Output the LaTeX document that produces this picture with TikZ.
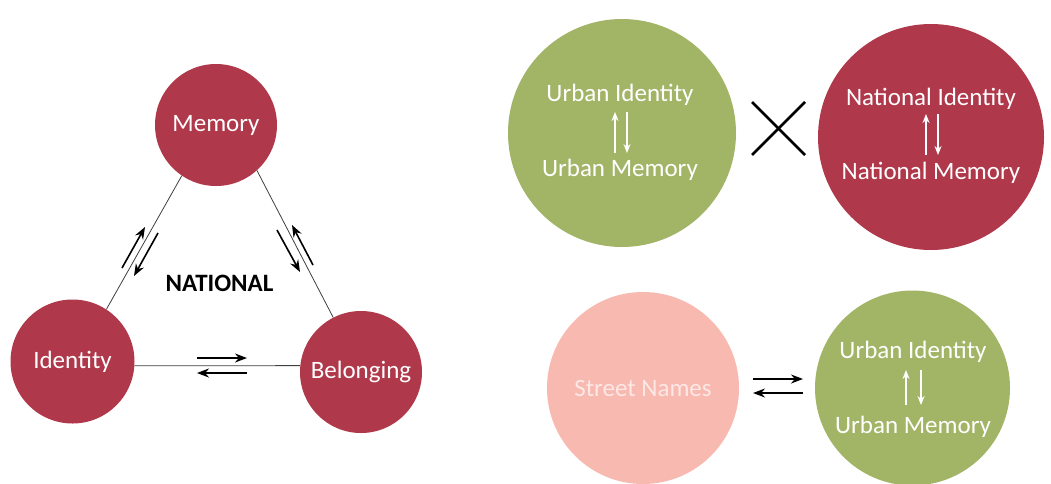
\documentclass[tikz,border=0pt]{standalone}
\usepackage{fontspec}
\setmainfont{Carlito}
\usetikzlibrary{arrows.meta}
\definecolor{nred}{HTML}{B0384B}
\definecolor{ugreen}{HTML}{A2B567}
\definecolor{spink}{HTML}{F8B9B1}
\definecolor{spinktext}{HTML}{FDE8E5}
\begin{document}
\begin{tikzpicture}[x=1pt,y=-1pt,
  circ/.style={circle,inner sep=0pt,text=white,font=\fontsize{25}{30}\selectfont},
  txt/.style={inner sep=0pt,text=white,font=\fontsize{25}{30}\selectfont},
  link/.style={line width=0.8pt,draw=black!75},
  barr/.style={line width=1.6pt,-{Stealth[length=12pt,width=9pt]}},
  warr/.style={line width=1.4pt,white,-{Stealth[length=9pt,width=7pt]}},
  cross/.style={line width=2.6pt}]
\fill[white] (0,0) rectangle (1051,483);
\useasboundingbox (0,0) rectangle (1051,483);

% triangle
\node[circ,fill=nred,minimum size=122pt] (memory) at (216,125) {Memory};
\node[circ,fill=nred,minimum size=124pt] (identity) at (72.5,361.5) {Identity};
\node[circ,fill=nred,minimum size=122pt] (belonging) at (361,372) {Belonging};
\node[inner sep=0pt,font=\fontsize{25}{30}\selectfont\bfseries] (national) at (219.5,283) {NATIONAL};

\draw[link] (memory.236) -- (identity.57);
\draw[link] (memory.-48) -- (belonging.117);
\draw[link] (identity.-4) -- (belonging.174);

\coordinate (lu1) at (122,268); \coordinate (lu2) at (145,227);
\coordinate (ld1) at (158,233); \coordinate (ld2) at (134,276);
\coordinate (ru1) at (313,265); \coordinate (ru2) at (292,225);
\coordinate (rd1) at (277,230); \coordinate (rd2) at (300,272);
\coordinate (hr1) at (197,358); \coordinate (hr2) at (247,358);
\coordinate (hl1) at (247,373); \coordinate (hl2) at (197,373);
\draw[barr] (lu1) -- (lu2);
\draw[barr] (ld1) -- (ld2);
\draw[barr] (ru1) -- (ru2);
\draw[barr] (rd1) -- (rd2);
\draw[barr] (hr1) -- (hr2);
\draw[barr] (hl1) -- (hl2);

% top right
\node[circ,fill=ugreen,minimum size=228pt] (ucirc) at (622,133) {};
\node[circ,fill=nred,minimum size=226pt] (ncirc) at (931,137) {};
\node[txt] (uid) at (620,95) {Urban Identity};
\node[txt] (umem) at (620,170) {Urban Memory};
\node[txt] (nid) at (931,99) {National Identity};
\node[txt] (nmem) at (931,173) {National Memory};
\coordinate (uu1) at (615,153); \coordinate (uu2) at (615,112);
\coordinate (ud1) at (627,112); \coordinate (ud2) at (627,153);
\coordinate (nu1) at (926,155); \coordinate (nu2) at (926,114);
\coordinate (nd1) at (938,114); \coordinate (nd2) at (938,155);
\draw[warr] (uu1) -- (uu2);
\draw[warr] (ud1) -- (ud2);
\draw[warr] (nu1) -- (nu2);
\draw[warr] (nd1) -- (nd2);

\coordinate (xa) at (752,102); \coordinate (xb) at (805,155);
\coordinate (xc) at (752,155); \coordinate (xd) at (805,102);
\draw[cross] (xa) -- (xb);
\draw[cross] (xc) -- (xd);

% bottom right
\node[circ,fill=spink,text=spinktext,minimum size=192pt] (street) at (643,388) {Street Names};
\node[circ,fill=ugreen,minimum size=195pt] (ucirc2) at (912.5,388) {};
\node[txt] (uid2) at (913,352) {Urban Identity};
\node[txt] (umem2) at (913,427) {Urban Memory};
\coordinate (bu1) at (906,405); \coordinate (bu2) at (906,370);
\coordinate (bd1) at (921,370); \coordinate (bd2) at (921,405);
\draw[warr] (bu1) -- (bu2);
\draw[warr] (bd1) -- (bd2);

\coordinate (sr1) at (753,379); \coordinate (sr2) at (803,379);
\coordinate (sl1) at (803,393); \coordinate (sl2) at (753,393);
\draw[barr] (sr1) -- (sr2);
\draw[barr] (sl1) -- (sl2);
\end{tikzpicture}
\end{document}
